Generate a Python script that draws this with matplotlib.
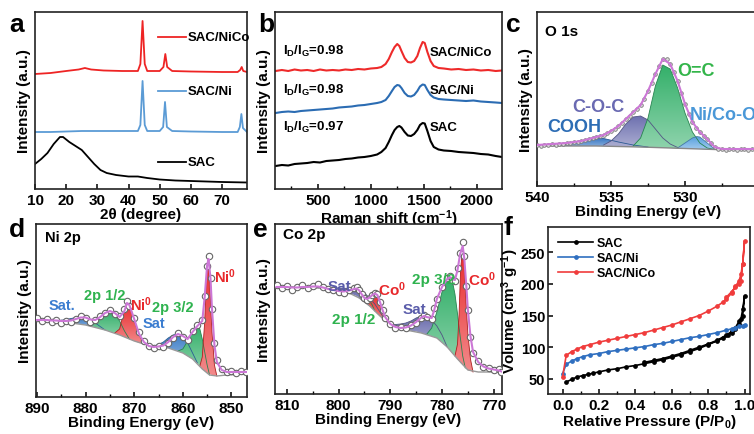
import matplotlib
matplotlib.use("Agg")
import matplotlib.pyplot as plt
import numpy as np
from matplotlib.patches import Polygon
from matplotlib.colors import to_rgb
from matplotlib.ticker import MultipleLocator, FixedLocator

plt.rcParams['font.family'] = ['Liberation Sans', 'DejaVu Sans']
plt.rcParams['font.weight'] = 'bold'
plt.rcParams['axes.labelweight'] = 'bold'
plt.rcParams['mathtext.fontset'] = 'custom'
plt.rcParams['mathtext.rm'] = 'Liberation Sans:bold'
plt.rcParams['mathtext.it'] = 'Liberation Sans:bold'
plt.rcParams['mathtext.bf'] = 'Liberation Sans:bold'

# ---- (a) XRD ----
xrd_nico_x = [10, 15, 20, 24, 26, 28, 32, 38, 43, 43.8, 44.5, 45.2, 46, 50, 51.2, 51.8, 52.4, 54, 60, 70, 75, 75.8, 76.3, 76.8, 78]
xrd_nico_y = [115, 116, 118, 119.5, 121, 119.5, 118.5, 118, 118, 125, 168, 125, 118, 118, 122, 135, 122, 118, 117.5, 117, 117, 119, 122, 118, 117]
xrd_ni_x = [10, 15, 20, 25, 30, 38, 43, 43.8, 44.5, 45.2, 46, 50, 51.1, 51.7, 52.3, 54, 60, 70, 75, 75.7, 76.2, 76.7, 78]
xrd_ni_y = [57, 57, 57.5, 58, 58, 58, 58, 64, 108, 64, 58, 58, 62, 87, 62, 58, 57.5, 57, 57, 62, 75, 61, 57]
xrd_sac_x = [10, 12, 14, 16, 18, 19, 21, 23, 25, 27, 29, 31, 33, 36, 40, 43, 46, 50, 55, 60, 70, 78]
xrd_sac_y = [25, 30, 36, 45, 52, 52, 47, 43, 39, 32, 25, 19, 16, 14, 12.5, 12.5, 11, 9.5, 8.5, 8, 7, 6.5]

# ---- (b) Raman ----
ram_x = [100, 160, 220, 280, 340, 400, 460, 520, 580, 640, 700, 760, 820, 880, 940, 1000,
         1060, 1100, 1140, 1170, 1200, 1225, 1250, 1270, 1290, 1320, 1350, 1380, 1410, 1440, 1465,
         1490, 1510, 1535, 1565, 1595, 1640, 1690, 1760, 1830, 1900, 1970, 2040, 2110, 2180, 2240]
ram_nico = [118, 119, 118, 119.5, 118.5, 119, 118, 119.5, 118.5, 119, 118.5, 119.5, 119, 120, 119.5, 120.5,
            121, 122, 125, 130, 137, 142, 145, 143, 138, 131, 127, 126.5, 128, 133, 141, 147, 146, 137,
            128, 123, 121, 120.5, 119.5, 120, 119, 119.5, 118.5, 119, 118, 118.5]
ram_ni = [76, 77, 77.5, 77, 78, 78.5, 79, 79.5, 80, 80.5, 81.5, 82, 82.5, 83.5, 84, 85, 86, 87, 89, 93, 98,
          102, 104, 103.5, 101, 96, 93, 92.5, 94, 98, 102.5, 104.5, 104, 99, 94, 91.5, 90, 89.5, 89, 88.5,
          88, 88.5, 87.5, 87, 86.5, 86]
ram_sac = [23, 24, 23.5, 25, 25.5, 26, 27, 26.5, 28, 28.5, 29, 30, 30.5, 31.5, 32, 33, 34.5, 37, 41, 47, 54,
           59, 62, 63, 61.5, 57, 53.5, 53, 55, 59, 64, 66, 65.5, 58, 48, 42, 39.5, 38.5, 38, 37, 36.5, 36,
           35, 34.5, 33, 32]
ratio_labels = ['I$_D$/I$_G$=0.98', 'I$_D$/I$_G$=0.98', 'I$_D$/I$_G$=0.97']

# ---- (c) O 1s ----
o_x = [540, 539.75, 539.5, 539.25, 539, 538.75, 538.5, 538.25, 538, 537.75, 537.5, 537.25, 537, 536.75,
       536.5, 536.25, 536, 535.75, 535.5, 535.25, 535, 534.75, 534.5, 534.25, 534, 533.75, 533.5, 533.25,
       533, 532.75, 532.5, 532.25, 532, 531.75, 531.5, 531.25, 531, 530.75, 530.5, 530.25, 530, 529.75,
       529.5, 529.25, 529, 528.75, 528.5, 528.25, 528, 527.75, 527.5, 527.25, 527, 526.75, 526.5, 526.25,
       526, 525.75, 525.5]
o_data = [41, 40.5, 41.5, 41, 42, 41.5, 42.5, 42, 43.5, 43, 44.5, 44, 45.5, 46, 47.5, 48, 49, 50, 51.5, 53,
          55.5, 57, 60.5, 63.5, 67, 70.5, 74, 77, 81.5, 87, 95, 103, 112.5, 120, 127.5, 127, 122, 114, 105,
          93, 82, 72, 64.5, 58, 54, 50.5, 47, 43, 39.5, 37.5, 37, 36.5, 37.5, 37, 36.5, 37.5, 37, 36.5, 37]
o_fit_x = [540, 539, 538, 537, 536, 535.5, 535, 534.5, 534, 533.5, 533, 532.5, 532, 531.5, 531, 530.5,
           530, 529.5, 529, 528.5, 528, 527.5, 527, 526, 525.3]
o_fit = [41, 42, 43, 45, 49, 51, 55, 60, 67, 74, 81, 95, 112, 127, 122, 105, 82, 64, 54, 47, 39, 37, 37, 37, 37]
o_bg_x = [540, 536, 533, 530, 528, 525.3]
o_bg = [40, 40, 39, 37.5, 36.5, 36.5]
o_comp = {
    'COOH': ([538.5, 537.5, 536.5, 536, 535.5, 534.5, 533.5, 532.5],
             [40, 40, 40, 40, 40, 39.5, 39, 38.5],
             [40.5, 43, 47, 48, 47.5, 44, 41, 39], '#3a78c4'),
    'C-O-C': ([535.5, 535, 534.5, 534, 533.5, 533, 532.5, 532, 531.5, 531, 530.5],
              [40, 40, 39.5, 39.5, 39, 39, 38.5, 38.5, 38, 38, 37.5],
              [41, 45, 52, 62, 69, 70, 66, 57, 48, 42, 38.5], '#6e71b0'),
    'O=C': ([533.5, 533, 532.5, 532, 531.5, 531, 530.5, 530, 529.5, 529, 528.5, 528],
            [39, 39, 38.5, 38.5, 38, 38, 37.5, 37.5, 37, 37, 36.5, 36.5],
            [40, 48, 68, 100, 121, 117, 98, 73, 54, 43, 38, 36.5], '#34b06a'),
    'Ni/Co-O': ([530.5, 530, 529.5, 529.2, 529, 528.5, 528],
                [37.5, 37.5, 37, 37, 37, 36.5, 36.5],
                [38, 43, 48, 49.5, 49, 43, 37], '#5aa2df'),
}

# ---- (d) Ni 2p ----
ni_x = [890, 889, 888, 887, 886, 885, 884, 883, 882, 881, 880, 879, 878, 877, 876, 875, 874, 873, 872,
        871.5, 871, 870, 869, 868, 867, 866, 865, 864, 863, 862, 861, 860, 859, 858, 857, 856, 855.5,
        855, 854.7, 854.3, 854, 853.5, 853, 852, 851, 850, 849, 848, 847]
ni_data = [79, 76, 78, 75, 77, 74, 76, 75, 78, 81, 79, 75, 77, 81, 84, 87, 83, 81, 88, 96, 91, 79, 65, 56,
           51, 49, 51, 50, 54, 59, 64, 60, 57, 66, 72, 77, 101, 131, 141, 119, 88, 54, 37, 28, 25, 26, 24,
           26, 25]
ni_fit = [77, 77, 77, 76.5, 76.5, 76, 76, 76.5, 78, 79.5, 79.5, 77.5, 77, 80, 84, 86, 84, 80, 86, 94, 92,
          78, 63, 55, 51, 50, 50.5, 51.5, 55, 60, 63, 61, 58, 65, 71, 76, 100, 132, 138, 118, 88, 52, 35,
          27, 25, 25, 25, 25, 25]
ni_bg_x = [890, 886, 880, 876, 873, 870, 868, 866, 863, 860, 858, 856, 854.5, 853, 851, 847]
ni_bg = [77, 76, 72, 67, 62, 56, 53, 51, 49, 44, 38, 28, 22, 21, 22, 23]
ni_comp = [
    ([886, 884, 882, 881, 880, 878, 876], [76, 74.5, 73.5, 73, 72, 70, 67],
     [76, 77.5, 79.5, 80, 79, 74, 67], '#3b7cc6'),
    ([879, 878, 877, 876, 875, 874, 873, 872, 871], [71, 70, 68.5, 67, 65.5, 64, 62, 60, 58],
     [71, 74, 80, 85, 86, 83, 76, 66, 58], '#34b06a'),
    ([874, 873, 872.5, 872, 871.5, 871, 870.5, 870, 869, 868], [64, 62, 61, 60, 59, 58, 57, 56, 54, 53],
     [64, 68, 78, 88, 93, 92, 85, 76, 62, 53], '#e8292b'),
    ([866, 865, 864, 863, 862, 861, 860, 859, 858, 857], [51, 50.5, 50, 49, 47.5, 46, 44, 41, 38, 34],
     [51, 52.5, 55, 59, 62, 63, 61, 54, 44, 34], '#3b7cc6'),
    ([861, 860, 859, 858, 857.5, 857, 856.5, 856, 855.5, 855, 854.5],
     [46, 44, 41, 38, 36, 34, 31, 28, 26, 24, 22],
     [46, 48, 56, 66, 70, 71, 68, 58, 45, 32, 22], '#34b06a'),
    ([856.5, 856, 855.5, 855.2, 854.9, 854.6, 854.3, 854, 853.5, 853],
     [31, 28, 26, 25, 24, 23, 22.5, 22, 21.5, 21],
     [31, 40, 75, 115, 137, 125, 95, 65, 32, 21], '#e8292b'),
]

# ---- (e) Co 2p ----
co_x = [812, 811, 810, 809, 808, 807, 806, 805, 804, 803, 802, 801, 800, 799, 798, 797, 796.5, 796,
        795.5, 795, 794.5, 794, 793.5, 793, 792.5, 792, 791.5, 791, 790, 789, 788, 787, 786, 785, 784,
        783.5, 783, 782, 781.5, 781, 780, 779, 778.5, 778, 777.5, 777, 776.5, 776, 775.7, 775.3, 775,
        774.5, 774, 773, 772, 771, 770, 769, 768.5]
co_data = [109, 106, 108, 104, 107, 109, 106, 108, 110, 107, 105, 104, 102, 101, 104, 106,
           107, 104, 100, 96, 94, 96, 99, 101, 100, 92, 84, 76,
           70, 66, 67, 66, 69, 71, 76,
           79, 77, 75, 86, 95, 107, 116, 118, 114, 113, 126, 141, 152, 138, 108, 84, 57, 41,
           33, 27, 26, 24, 25, 22]
co_fit = [107, 107, 107, 106.5, 106.5, 107, 107, 107.5, 107.5, 106.5, 105, 104, 103, 102.5, 103.5, 105,
          105.5, 103.5, 99.5, 96, 95, 96.5, 99, 100.5, 99, 92, 84, 77,
          70, 67, 66, 66.5, 68.5, 72, 76.5,
          78, 77, 76, 84, 95, 107, 115, 117, 115, 114, 124, 140, 148, 136, 108, 84, 58, 42,
          32, 27.5, 25.5, 24.5, 23.5, 22.5]
co_bg_x = [812.3, 800, 798, 796, 794, 792, 790, 787, 784, 781, 779, 777, 775, 773, 768.4]
co_bg = [108, 105, 101, 96, 88, 78, 69, 64, 61, 56, 47, 35, 24, 22, 22]
co_comp = [
    ([802, 800, 798, 796.5, 795, 794, 793, 792, 791], [106, 105, 101, 98, 92, 88, 83, 78, 74],
     [106, 106, 105.5, 105, 101, 96, 90, 82, 74], '#6c6eae'),
    ([796, 795, 794.5, 794, 793.5, 793], [96, 92, 90, 88, 86, 83],
     [96, 95, 95, 93, 89, 83], '#34b06a'),
    ([795, 794.5, 794, 793.5, 793, 792.5, 792, 791.5, 791, 790.5], [92, 90, 88, 86, 83, 80, 78, 76, 74, 71],
     [92, 93, 96, 99, 100, 99, 93, 85, 77, 71], '#e8292b'),
    ([790, 789, 788, 787, 786, 785, 784, 783, 782, 781, 780, 779],
     [69, 67, 65.5, 64, 63, 62.5, 61, 59.5, 58, 56, 52, 47],
     [69, 69.5, 70, 71, 73, 76, 78, 77.5, 74, 68, 59, 47], '#6c6eae'),
    ([783, 782, 781, 780, 779.5, 779, 778.6, 778, 777.5, 777, 776.5, 776, 775.5],
     [59.5, 58, 56, 52, 50, 47, 45, 41, 38, 35, 32, 29, 26],
     [59.5, 66, 82, 102, 110, 115, 117, 113, 100, 80, 58, 38, 26], '#34b06a'),
    ([777.5, 777, 776.7, 776.4, 776, 775.7, 775.4, 775, 774.5, 774],
     [38, 35, 33, 31, 29, 27.5, 26, 24, 23, 22],
     [38, 50, 80, 125, 147, 130, 95, 60, 35, 22], '#e8292b'),
]

# ---- (f) BET ----
sac_p = [0.02, 0.05, 0.08, 0.11, 0.14, 0.17, 0.2, 0.25, 0.3, 0.35, 0.4, 0.45, 0.5, 0.55, 0.6, 0.65,
         0.7, 0.75, 0.8, 0.85, 0.88, 0.91, 0.93, 0.95, 0.97, 0.99, 1.0, 0.99, 0.98, 0.97, 0.95, 0.93,
         0.9, 0.85, 0.8, 0.75, 0.7, 0.65, 0.6, 0.55, 0.5, 0.45]
sac_v = [45, 49, 53, 55, 57, 59, 61, 64, 66, 69, 71, 74, 77, 80, 84, 88, 93, 98, 104, 110, 114, 119,
         123, 128, 136, 150, 181, 160, 144, 141, 131, 125, 119, 111, 105, 100, 95, 90, 86, 82, 79, 76]
ni_p = [0.0, 0.02, 0.05, 0.08, 0.11, 0.15, 0.2, 0.25, 0.3, 0.35, 0.4, 0.45, 0.5, 0.55, 0.6, 0.65, 0.7,
        0.75, 0.8, 0.85, 0.9, 0.93, 0.95, 0.97, 0.99, 1.0]
ni_v = [58, 73, 78, 82, 85, 88, 90, 93, 95, 97, 99, 101, 104, 106, 109, 112, 115, 117, 120, 123, 127,
        129, 131, 133, 134, 135]
nico_p = [0.0, 0.02, 0.05, 0.08, 0.11, 0.15, 0.2, 0.25, 0.3, 0.35, 0.4, 0.45, 0.5, 0.55, 0.6, 0.65, 0.7,
          0.75, 0.8, 0.85, 0.88, 0.9, 0.93, 0.95, 0.97, 0.98, 0.99, 1.0, 0.99, 0.98, 0.97, 0.95, 0.93, 0.9]
nico_v = [53, 87, 93, 97, 101, 104, 108, 111, 114, 117, 120, 123, 127, 131, 135, 140, 145, 150, 157,
          165, 171, 176, 186, 196, 205, 215, 232, 268, 232, 205, 200, 195, 188, 179]


def grad_fill(ax, x, lo, hi, color):
    rgb = np.array(to_rgb(color))
    verts = np.column_stack([list(x) + list(x)[::-1], list(hi) + list(lo)[::-1]])
    poly = Polygon(verts, closed=True, fc='none', ec='none', transform=ax.transData)
    ax.add_patch(poly)
    t = np.linspace(0, 1, 64)[:, None]
    img = np.zeros((64, 1, 4))
    img[:, 0, :3] = (1 - t) * (0.55 * rgb + 0.45) + t * rgb
    img[:, 0, 3] = 1
    im = ax.imshow(img, extent=[min(x), max(x), min(lo), max(hi)], origin='lower',
                   aspect='auto', interpolation='bilinear', zorder=2)
    im.set_clip_path(poly)
    ax.plot(x, hi, color=rgb * 0.75, lw=0.6, zorder=3)


def style(ax, xlabel, ylabel='Intensity (a.u.)', noy=True, ypad=3):
    for s in ax.spines.values():
        s.set_linewidth(1.2)
        s.set_color('#222222')
    ax.tick_params(direction='in', length=3.5, width=1.1, labelsize=11, pad=3, top=False, right=False)
    ax.tick_params(which='minor', direction='in', length=2.5, width=1.0, top=False, right=False)
    ax.set_xlabel(xlabel, fontsize=11, labelpad=0)
    ax.set_ylabel(ylabel, fontsize=11, labelpad=ypad)
    if noy:
        ax.set_yticks([])


def lab(ax, x, y, s, color, size):
    ax.text(x, y, s, color=color, fontsize=size, va='center', zorder=6)


W, H = 754, 435
fig = plt.figure(figsize=(W / 100, H / 100), dpi=100)


def box(l, t, r, b):
    return [l / W, 1 - b / H, (r - l) / W, (b - t) / H]


# (a)
ax = fig.add_axes(box(35, 13, 247, 190))
ax.plot(xrd_nico_x, xrd_nico_y, color='#ee2424', lw=1.3)
ax.plot(xrd_ni_x, xrd_ni_y, color='#5b9bd5', lw=1.3)
ax.plot(xrd_sac_x, xrd_sac_y, color='black', lw=1.3)
for yy, col, name in [(0.86, '#ee2424', 'SAC/NiCo'), (0.554, '#5b9bd5', 'SAC/Ni'), (0.153, 'black', 'SAC')]:
    ax.plot([0.58, 0.71], [yy, yy], color=col, lw=1.3, transform=ax.transAxes)
    ax.text(0.72, yy, name, transform=ax.transAxes, fontsize=9.5, va='center', ha='left')
ax.set_xlim(10, 78)
ax.set_ylim(0, 177)
ax.xaxis.set_major_locator(MultipleLocator(10))
style(ax, '2θ (degree)')

# (b)
ax = fig.add_axes(box(275, 13, 502, 190))
ax.plot(ram_x, ram_nico, color='#ee2a2a', lw=1.5)
ax.plot(ram_x, ram_ni, color='#2b6cb3', lw=1.5)
ax.plot(ram_x, ram_sac, color='black', lw=1.5)
for yy, r, name in zip([0.78, 0.565, 0.356], ratio_labels, ['SAC/NiCo', 'SAC/Ni', 'SAC']):
    ax.text(0.035, yy, r, transform=ax.transAxes, fontsize=9.5, va='center', ha='left')
    ax.text(0.683, yy - 0.005, name, transform=ax.transAxes, fontsize=9.5, va='center', ha='left')
ax.set_xlim(95, 2240)
ax.set_ylim(0, 177)
ax.xaxis.set_major_locator(MultipleLocator(500))
ax.xaxis.set_minor_locator(MultipleLocator(250))
style(ax, 'Raman shift (cm$^{-1}$)')

# (c)
ax = fig.add_axes(box(537, 13, 537 + 15 * 14.8, 187))
for name, (cx, lo, hi, col) in o_comp.items():
    grad_fill(ax, cx, lo, hi, col)
ax.plot(o_bg_x, o_bg, color='#888888', lw=1.0, zorder=3)
ax.plot(o_x, o_data, 'o', ms=2.6, mfc='#dddddd', mec='#777777', mew=0.6, zorder=4)
ax.plot(o_fit_x, o_fit, color='#cc77d6', lw=1.5, zorder=5)
lab(ax, 539.3, 59, 'COOH', '#2d6db5', 13)
lab(ax, 537.6, 80, 'C-O-C', '#6a6ab2', 13)
lab(ax, 530.5, 115, 'O=C', '#33b54a', 13)
lab(ax, 529.7, 72, 'Ni/Co-O', '#4a98d8', 13)
ax.text(0.036, 0.89, 'O 1s', transform=ax.transAxes, fontsize=11, va='center')
ax.set_xlim(540, 525)
ax.set_ylim(0, 174)
ax.xaxis.set_major_locator(FixedLocator([540, 535, 530]))
ax.xaxis.set_minor_locator(FixedLocator([537.5, 532.5, 527.5]))
style(ax, 'Binding Energy (eV)')

# (d)
ax = fig.add_axes(box(36, 225, 247, 398))
for cx, lo, hi, col in ni_comp:
    grad_fill(ax, cx, lo, hi, col)
ax.plot(ni_bg_x, ni_bg, color='#999999', lw=1.0, zorder=3)
ax.plot(ni_x, ni_data, 'o', ms=4.6, mfc='white', mec='#666666', mew=0.8, zorder=4)
ax.plot(ni_x, ni_fit, color='#cc77d6', lw=1.5, zorder=5)
lab(ax, 887.6, 92, 'Sat.', '#3b7dd0', 10.5)
lab(ax, 880.4, 102, '2p 1/2', '#2fb34f', 10.5)
lab(ax, 870.9, 93, 'Ni$^0$', '#e8282b', 10.5)
lab(ax, 866.4, 90, '2p 3/2', '#2fb34f', 10.5)
lab(ax, 868.2, 74, 'Sat', '#3b7dd0', 10.5)
lab(ax, 853.6, 121, 'Ni$^0$', '#e8282b', 10.5)
ax.text(0.043, 0.925, 'Ni 2p', transform=ax.transAxes, fontsize=10.5, va='center')
ax.set_xlim(890.2, 846.8)
ax.set_ylim(0, 173)
ax.xaxis.set_major_locator(MultipleLocator(10))
ax.xaxis.set_minor_locator(MultipleLocator(5))
style(ax, 'Binding Energy (eV)')

# (e)
ax = fig.add_axes(box(275, 225, 502, 395))
for cx, lo, hi, col in co_comp:
    grad_fill(ax, cx, lo, hi, col)
ax.plot(co_bg_x, co_bg, color='#999999', lw=1.0, zorder=3)
ax.plot(co_x, co_data, 'o', ms=4.6, mfc='white', mec='#666666', mew=0.8, zorder=4)
ax.plot(co_x, co_fit, color='#cc77d6', lw=1.5, zorder=5)
lab(ax, 802.2, 108, 'Sat', '#5a5caa', 11)
lab(ax, 792.4, 105, 'Co$^0$', '#e8282b', 11)
lab(ax, 801.3, 75, '2p 1/2', '#2fb34f', 11)
lab(ax, 787.7, 85, 'Sat', '#5a5caa', 11)
lab(ax, 785.8, 115, '2p 3/2', '#2fb34f', 11)
lab(ax, 775.0, 115, 'Co$^0$', '#e8282b', 11)
ax.text(0.035, 0.94, 'Co 2p', transform=ax.transAxes, fontsize=11, va='center')
ax.set_xlim(812.3, 768.4)
ax.set_ylim(0, 170)
ax.xaxis.set_major_locator(MultipleLocator(10))
ax.xaxis.set_minor_locator(MultipleLocator(5))
style(ax, 'Binding Energy (eV)')

# (f)
ax = fig.add_axes(box(548, 228, 750, 395))
ax.plot(sac_p, sac_v, '-o', color='black', lw=1.2, ms=2.4, label='SAC')
ax.plot(ni_p, ni_v, '-o', color='#2f6fc0', lw=1.2, ms=2.4, label='SAC/Ni')
ax.plot(nico_p, nico_v, '-o', color='#f03c3c', lw=1.2, ms=2.4, label='SAC/NiCo')
ax.legend(loc='upper left', frameon=False, handlelength=2.8, handletextpad=0.3,
          labelspacing=0.25, borderaxespad=0.4, prop={'weight': 'bold', 'size': 9})
ax.set_xlim(-0.08, 1.03)
ax.set_ylim(26, 290)
ax.xaxis.set_major_locator(MultipleLocator(0.2))
ax.xaxis.set_minor_locator(MultipleLocator(0.1))
ax.yaxis.set_major_locator(MultipleLocator(50))
ax.xaxis.set_major_formatter(plt.FormatStrFormatter('%.1f'))
style(ax, 'Relative Pressure (P/P$_0$)', 'Volume (cm$^3$ g$^{-1}$)', noy=False, ypad=0)
ax.tick_params(axis='y', labelsize=10.5, pad=2)

for letter, px, py in [('a', 17, 25), ('b', 266, 25), ('c', 513, 25),
                       ('d', 17, 230), ('e', 260, 230), ('f', 508, 228)]:
    fig.text(px / W, 1 - py / H, letter, fontsize=19, fontweight='bold', ha='center', va='center')

fig.savefig('out.png', dpi=100)
